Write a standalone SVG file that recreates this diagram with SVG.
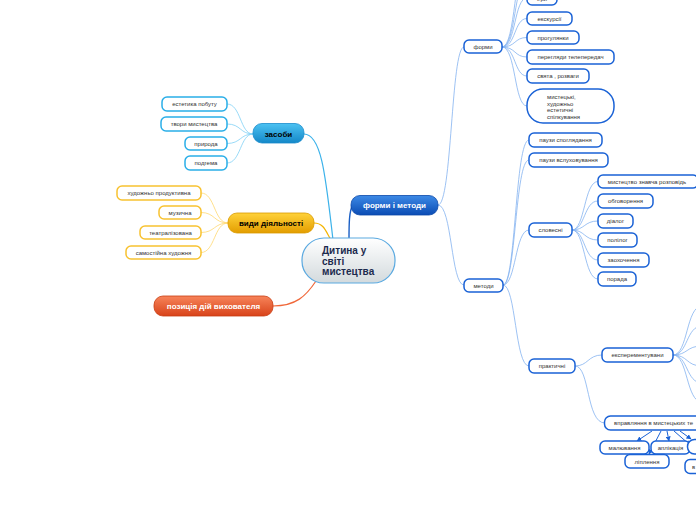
<svg xmlns="http://www.w3.org/2000/svg" width="696" height="520" viewBox="0 0 696 520">
<defs>
<linearGradient id="gCentral" x1="0" y1="0" x2="0" y2="1"><stop offset="0" stop-color="#ffffff"/><stop offset="1" stop-color="#d3dadd"/></linearGradient>
<linearGradient id="gBlueL" x1="0" y1="0" x2="0" y2="1"><stop offset="0" stop-color="#4cc2f2"/><stop offset="1" stop-color="#1488c8"/></linearGradient>
<linearGradient id="gOrange" x1="0" y1="0" x2="0" y2="1"><stop offset="0" stop-color="#ffd23a"/><stop offset="1" stop-color="#e39d00"/></linearGradient>
<linearGradient id="gRed" x1="0" y1="0" x2="0" y2="1"><stop offset="0" stop-color="#f7845a"/><stop offset="1" stop-color="#d8431a"/></linearGradient>
<linearGradient id="gBlueD" x1="0" y1="0" x2="0" y2="1"><stop offset="0" stop-color="#3d8ae6"/><stop offset="1" stop-color="#0b4cb4"/></linearGradient>
<marker id="arr" viewBox="0 0 10 10" refX="9" refY="5" markerWidth="5" markerHeight="5" orient="auto"><path d="M0,0 L10,5 L0,10 z" fill="#1a62d6"/></marker>
</defs>
<style>
text{font-family:"Liberation Sans",Arial,sans-serif}
.c{fill:none;stroke:#84b2f0;stroke-width:0.8}
.cc{fill:none;stroke:#7fd0f5;stroke-width:0.8}
.co{fill:none;stroke:#ffd870;stroke-width:0.8}
.nb{fill:#fff;stroke:#1a62d6;stroke-width:1.5}
.nc{fill:#fff;stroke:#2aaee8;stroke-width:1.5}
.no{fill:#fff;stroke:#f8c230;stroke-width:1.5}
.t{font-size:6px;fill:#333;text-anchor:middle}
.tl{font-size:6px;fill:#333}
.b{font-size:8px;font-weight:bold;text-anchor:middle}
.ar{stroke:#1a62d6;stroke-width:1;fill:none;marker-end:url(#arr)}
</style>
<rect width="696" height="520" fill="#fff"/>
<g id="connectors">
<path d="M304,134 C322,134 326,180 333,240" fill="none" stroke="#3bb2ea" stroke-width="1.2"/>
<path d="M314,223 C324,223 326,232 331,240" fill="none" stroke="#f4b400" stroke-width="1.2"/>
<path d="M273,306 C296,306 306,296 316,281" fill="none" stroke="#f0683a" stroke-width="1.2"/>
<path d="M349,240 C349,225 349,210 353,205" fill="none" stroke="#1a5fc5" stroke-width="1.4"/>
<path class="cc" d="M253,134 C240,134 241,104 227,104"/>
<path class="cc" d="M253,134 C240,134 241,124 227,124"/>
<path class="cc" d="M253,134 C240,134 241,143.5 227,143.5"/>
<path class="cc" d="M253,134 C240,134 241,163 227,163"/>
<path class="co" d="M228,223 C214,223 215,193 201,193"/>
<path class="co" d="M228,223 C214,223 215,212.5 201,212.5"/>
<path class="co" d="M228,223 C214,223 215,232.5 201,232.5"/>
<path class="co" d="M228,223 C214,223 215,252.5 201,252.5"/>
<path class="c" d="M438,205 C452,205 451,47 464,47"/>
<path class="c" d="M438,205 C452,205 451,285 464,285"/>
<path class="c" d="M502,47 C516,47 514,-40 527,-40"/>
<path class="c" d="M502,47 C516,47 514,-20 527,-20"/>
<path class="c" d="M502,47 C516,47 514,-2 527,-2"/>
<path class="c" d="M502,47 C516,47 514,18.5 527,18.5"/>
<path class="c" d="M502,47 C516,47 514,37.5 527,37.5"/>
<path class="c" d="M502,47 C516,47 514,57 527,57"/>
<path class="c" d="M502,47 C516,47 514,76 527,76"/>
<path class="c" d="M502,47 C516,47 514,106 527,106"/>
<path class="c" d="M503,285 C516,285 515,140 529,140"/>
<path class="c" d="M503,285 C516,285 515,160 529,160"/>
<path class="c" d="M503,285 C516,285 515,230 529,230"/>
<path class="c" d="M503,285 C516,285 515,366 529,366"/>
<path class="c" d="M572,230 C585,230 584,181.5 598,181.5"/>
<path class="c" d="M572,230 C585,230 584,201 598,201"/>
<path class="c" d="M572,230 C585,230 584,221 598,221"/>
<path class="c" d="M572,230 C585,230 584,240 598,240"/>
<path class="c" d="M572,230 C585,230 584,260 598,260"/>
<path class="c" d="M572,230 C585,230 584,279 598,279"/>
<path class="c" d="M575,366 C588,366 588,355 602,355"/>
<path class="c" d="M575,366 C590,366 586,423 605,423"/>
<path class="c" d="M673,355 C688,355 686,306 702,306"/>
<path class="c" d="M673,355 C688,355 686,326 702,326"/>
<path class="c" d="M673,355 C688,355 686,346 702,346"/>
<path class="c" d="M673,355 C688,355 686,366 702,366"/>
<path class="c" d="M673,355 C688,355 686,383 702,383"/>
<path class="c" d="M673,355 C688,355 686,402 702,402"/>
<line class="ar" x1="652" y1="431" x2="637" y2="441"/>
<line class="ar" x1="661" y1="431" x2="649" y2="454"/>
<line class="ar" x1="667" y1="431" x2="669" y2="441"/>
<line class="ar" x1="674" y1="431" x2="690" y2="445"/>
<line class="ar" x1="680" y1="431" x2="691" y2="439"/>
</g>
<g id="central"><rect x="302" y="238" width="93" height="45" rx="22" fill="url(#gCentral)" stroke="#5aa9e0" stroke-width="1.2"/>
<text x="322" y="254" font-size="10" font-weight="bold" fill="#1b2a4e">Дитина у</text>
<text x="322" y="264.5" font-size="10" font-weight="bold" fill="#1b2a4e">світі</text>
<text x="322" y="275" font-size="10" font-weight="bold" fill="#1b2a4e">мистецтва</text></g>
<g id="zasoby"><rect x="253" y="123.5" width="51" height="19.5" rx="9" fill="url(#gBlueL)" stroke="#1a8ccc" stroke-width="0.8"/><text class="b" x="278.5" y="136.5" fill="#000">засоби</text></g>
<g id="z1"><rect class="nc" x="162" y="97" width="65" height="14" rx="5"/><text class="t" x="194.5" y="106">естетика побуту</text></g>
<g id="z2"><rect class="nc" x="161" y="117" width="66" height="14" rx="5"/><text class="t" x="194" y="126">твори  мистецтва</text></g>
<g id="z3"><rect class="nc" x="185" y="137" width="42" height="13" rx="5"/><text class="t" x="206" y="145.5">природа</text></g>
<g id="z4"><rect class="nc" x="185" y="156" width="42" height="14" rx="5"/><text class="t" x="206" y="165">подгема</text></g>
<g id="vydy"><rect x="228" y="213" width="86" height="20" rx="9" fill="url(#gOrange)" stroke="#d99a00" stroke-width="0.8"/><text class="b" x="271" y="225.5" fill="#000">види діяльності</text></g>
<g id="v1"><rect class="no" x="117" y="186" width="84" height="14" rx="5"/><text class="t" x="159" y="195">художньо продуктивна</text></g>
<g id="v2"><rect class="no" x="159" y="206" width="42" height="13" rx="5"/><text class="t" x="180" y="214.5">музична</text></g>
<g id="v3"><rect class="no" x="140" y="226" width="61" height="13" rx="5"/><text class="t" x="170.5" y="234.5">театралізована</text></g>
<g id="v4"><rect class="no" x="126" y="246" width="75" height="13" rx="5"/><text class="t" x="163.5" y="254.5">самостійна художня</text></g>
<g id="pozytsiia"><rect x="154" y="296" width="119" height="20" rx="9" fill="url(#gRed)" stroke="#c83c12" stroke-width="0.8"/><text class="b" x="213.5" y="309" fill="#fff">позиція дій вихователя</text></g>
<g id="formy-metody"><rect x="351" y="195.5" width="87" height="19.5" rx="9" fill="url(#gBlueD)" stroke="#0a47a8" stroke-width="0.8"/><text class="b" x="394.5" y="208" fill="#fff">форми і методи</text></g>
<g id="formy"><rect class="nb" x="464" y="40" width="38" height="13" rx="5"/><text class="t" x="483" y="48.5">форми</text></g>
<g id="f1"><rect class="nb" x="527" y="-9" width="30" height="14" rx="5"/><text class="t" x="542" y="0.5">ігри</text></g>
<g id="f2"><rect class="nb" x="527" y="12" width="45" height="13" rx="5"/><text class="t" x="549.5" y="20.5">екскурсії</text></g>
<g id="f3"><rect class="nb" x="527" y="31" width="52" height="13" rx="5"/><text class="t" x="553" y="39.5">прогулянки</text></g>
<g id="f4"><rect class="nb" x="527" y="50" width="87" height="14" rx="5"/><text class="t" x="570.5" y="59">перегляди телепередач</text></g>
<g id="f5"><rect class="nb" x="527" y="69" width="62" height="14" rx="5"/><text class="t" x="558" y="78">свята , розваги</text></g>
<g id="f6"><rect class="nb" x="527" y="89" width="87" height="34" rx="16"/>
<text class="tl" x="547" y="99">мистецькі,</text><text class="tl" x="547" y="105.5">художньо</text><text class="tl" x="547" y="112">естетичні</text><text class="tl" x="547" y="118.5">спілкування</text></g>
<g id="metody"><rect class="nb" x="464" y="279" width="39" height="13" rx="5"/><text class="t" x="483.5" y="287.5">методи</text></g>
<g id="m1"><rect class="nb" x="529" y="133" width="73" height="14" rx="5"/><text class="t" x="565.5" y="142">паузи споглядання</text></g>
<g id="m2"><rect class="nb" x="529" y="153" width="79" height="14" rx="5"/><text class="t" x="568.5" y="162">паузи вслуховування</text></g>
<g id="slovesni"><rect class="nb" x="529" y="223" width="43" height="14" rx="5"/><text class="t" x="550.5" y="232">словесні</text></g>
<g id="s1"><rect class="nb" x="598" y="175" width="100" height="13" rx="5"/><text class="t" x="647" y="183.5">мистецтво знавча розповідь</text></g>
<g id="s2"><rect class="nb" x="598" y="194" width="55" height="14" rx="5"/><text class="t" x="625.5" y="203">обговорення</text></g>
<g id="s3"><rect class="nb" x="598" y="214" width="35" height="14" rx="5"/><text class="t" x="615.5" y="223">діалог</text></g>
<g id="s4"><rect class="nb" x="598" y="233" width="39" height="14" rx="5"/><text class="t" x="617.5" y="242">полілог</text></g>
<g id="s5"><rect class="nb" x="598" y="253" width="51" height="14" rx="5"/><text class="t" x="623.5" y="262">заохочення</text></g>
<g id="s6"><rect class="nb" x="598" y="272" width="38" height="14" rx="5"/><text class="t" x="617" y="281">порада</text></g>
<g id="praktychni"><rect class="nb" x="529" y="359" width="46" height="14" rx="5"/><text class="t" x="552" y="368">практичні</text></g>
<g id="eksper"><rect class="nb" x="602" y="348" width="71" height="14" rx="5"/><text class="t" x="637.5" y="357">експерементувани</text></g>
<g id="vpravl"><rect class="nb" x="604.5" y="416" width="110" height="14" rx="6"/><text class="tl" x="614" y="425">вправляння  в мистецьких те</text></g>
<g id="p1"><rect class="nb" x="600" y="441" width="49" height="13" rx="5"/><text class="t" x="624.5" y="449.5">малювання</text></g>
<g id="p2"><rect class="nb" x="651" y="441" width="39" height="13" rx="5"/><text class="t" x="670.5" y="449.5">аплікація</text></g>
<g id="p3"><rect class="nb" x="625" y="454.5" width="44" height="13.5" rx="5"/><text class="t" x="647" y="463.5">ліплення</text></g>
<g id="p4"><rect class="nb" x="687.5" y="439.5" width="30" height="14.5" rx="7"/></g>
<g id="p5"><rect class="nb" x="685" y="459.5" width="40" height="14" rx="5"/><text class="tl" x="692" y="468.5">в</text></g>
</svg>
